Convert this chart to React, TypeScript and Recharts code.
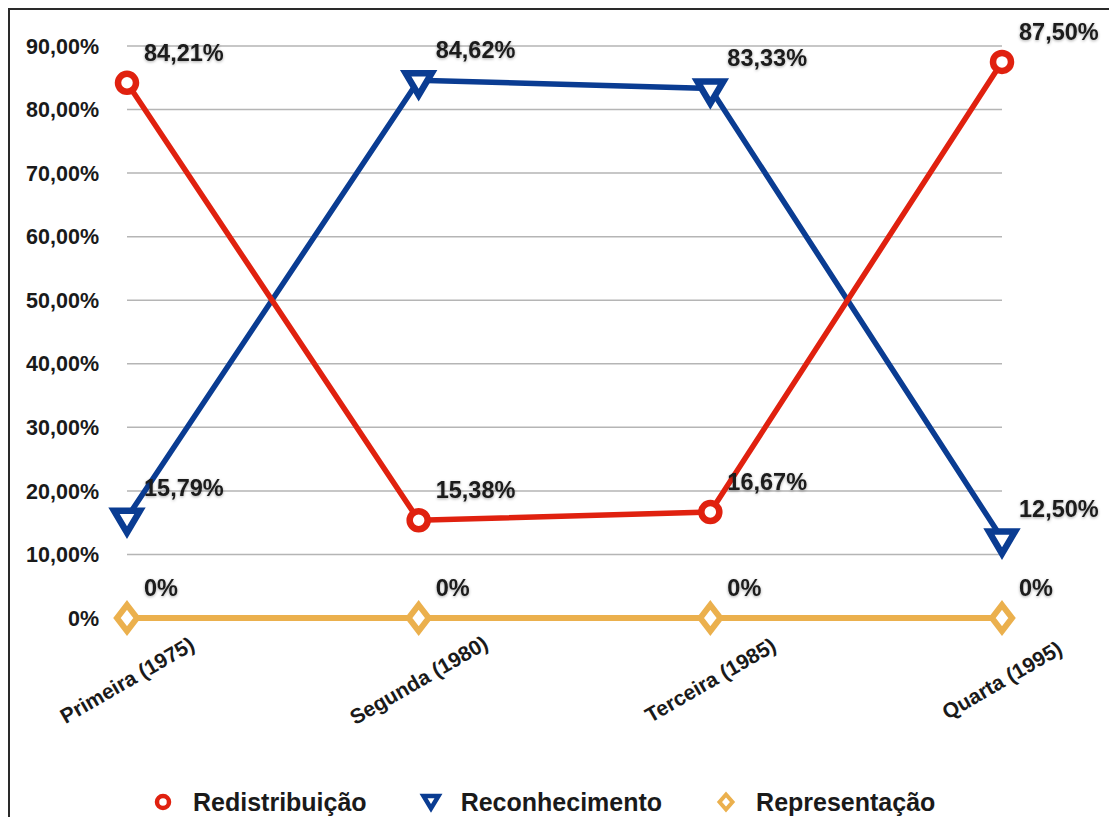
import { LineChart, Line, XAxis, YAxis, CartesianGrid, Legend, LabelList } from 'recharts';

const categories = ['Primeira (1975)', 'Segunda (1980)', 'Terceira (1985)', 'Quarta (1995)'];
const redistribuicao = [84.21, 15.38, 16.67, 87.5];
const reconhecimento = [15.79, 84.62, 83.33, 12.5];
const representacao = [0, 0, 0, 0];
const yTicks = [0, 10, 20, 30, 40, 50, 60, 70, 80, 90];

const RED = '#e0210f';
const BLUE = '#0a3c92';
const YELLOW = '#ebb04d';
const FONT = '"Liberation Sans", Arial, Helvetica, sans-serif';

const data = categories.map((name, i) => ({
  name,
  redistribuicao: redistribuicao[i],
  reconhecimento: reconhecimento[i],
  representacao: representacao[i],
}));

const fmtPct = (v: number) => (v === 0 ? '0%' : v.toFixed(2).replace('.', ',') + '%');

function CircleDot(props: any) {
  const { cx, cy } = props;
  if (cx == null || cy == null) return null;
  return <circle cx={cx} cy={cy} r={9} fill="#fff" stroke={RED} strokeWidth={6.5} />;
}

function TriangleDot(props: any) {
  const { cx, cy } = props;
  if (cx == null || cy == null) return null;
  return (
    <path
      d={`M${cx - 13},${cy - 7} L${cx + 13},${cy - 7} L${cx},${cy + 15} Z`}
      fill="#fff"
      stroke={BLUE}
      strokeWidth={6.5}
      strokeLinejoin="miter"
    />
  );
}

function DiamondDot(props: any) {
  const { cx, cy } = props;
  if (cx == null || cy == null) return null;
  return (
    <path
      d={`M${cx},${cy - 13} L${cx + 10},${cy} L${cx},${cy + 13} L${cx - 10},${cy} Z`}
      fill="#fff"
      stroke={YELLOW}
      strokeWidth={6}
      strokeLinejoin="miter"
    />
  );
}

function PointLabel(props: any) {
  const { x, y, value } = props;
  if (x == null || y == null) return null;
  return (
    <text
      x={x + 17}
      y={y - 30}
      dominantBaseline="central"
      fontSize={23.5}
      fontWeight="bold"
      fontFamily={FONT}
      fill="#1a1a1a"
      filter="url(#lblShadow)"
    >
      {fmtPct(value)}
    </text>
  );
}

function CategoryTick(props: any) {
  const { x, y, payload } = props;
  const cy = y + 54;
  return (
    <text
      x={x}
      y={cy}
      textAnchor="middle"
      dominantBaseline="central"
      transform={`rotate(-30 ${x} ${cy})`}
      fontSize={21}
      fontWeight="bold"
      fontFamily={FONT}
      fill="#1a1a1a"
    >
      {payload.value}
    </text>
  );
}

const legendItems = [
  { label: 'Redistribuição', color: RED, icon: 'circle' },
  { label: 'Reconhecimento', color: BLUE, icon: 'triangle' },
  { label: 'Representação', color: YELLOW, icon: 'diamond' },
];

function LegendIcon({ icon, color }: { icon: string; color: string }) {
  return (
    <svg width={24} height={24} style={{ display: 'block' }}>
      {icon === 'circle' && <circle cx={12} cy={12} r={6} fill="#fff" stroke={color} strokeWidth={4.5} />}
      {icon === 'triangle' && (
        <path d="M4.5,6 L19.5,6 L12,18.5 Z" fill="#fff" stroke={color} strokeWidth={4.5} />
      )}
      {icon === 'diamond' && (
        <path d="M12,4.5 L18.5,12 L12,19.5 L5.5,12 Z" fill="#fff" stroke={color} strokeWidth={4} />
      )}
    </svg>
  );
}

function ChartLegend() {
  return (
    <div
      style={{
        display: 'flex',
        alignItems: 'center',
        height: 30,
        paddingLeft: 141,
        fontFamily: FONT,
        fontSize: 25,
        fontWeight: 'bold',
        color: '#1a1a1a',
      }}
    >
      {legendItems.map((item) => (
        <div key={item.label} style={{ display: 'flex', alignItems: 'center', marginRight: 52 }}>
          <LegendIcon icon={item.icon} color={item.color} />
          <span style={{ marginLeft: 18 }}>{item.label}</span>
        </div>
      ))}
    </div>
  );
}

export default function App() {
  return (
    <div
      style={{
        width: 1107,
        height: 807,
        borderTop: '2px solid #2a2a2a',
        borderLeft: '2px solid #2a2a2a',
        background: '#fff',
        fontFamily: FONT,
        overflow: 'hidden',
      }}
    >
      <LineChart width={1107} height={807} data={data} margin={{ top: 36, right: 115, bottom: 0, left: 17 }}>
        <defs>
          <filter id="lblShadow" x="-20%" y="-60%" width="140%" height="220%">
            <feDropShadow dx="0" dy="1" stdDeviation="1.6" floodColor="#000" floodOpacity="0.35" />
          </filter>
        </defs>
        <CartesianGrid vertical={false} stroke="#b5b5b5" strokeWidth={1.5} />
        <XAxis
          dataKey="name"
          scale="point"
          padding={{ left: 0, right: 0 }}
          axisLine={false}
          tickLine={false}
          interval={0}
          height={169}
          tick={<CategoryTick />}
        />
        <YAxis
          domain={[0, 90]}
          ticks={yTicks}
          width={100}
          axisLine={false}
          tickLine={false}
          tickMargin={22}
          tickFormatter={fmtPct}
          tick={{ fontSize: 21.5, fontWeight: 'bold', fill: '#1a1a1a', fontFamily: FONT }}
        />
        <Legend verticalAlign="bottom" wrapperStyle={{ left: 0, width: 1107 }} content={<ChartLegend />} />
        <Line
          dataKey="representacao"
          name="Representação"
          stroke={YELLOW}
          strokeWidth={6}
          isAnimationActive={false}
          dot={(p: any) => <DiamondDot key={`d-${p.index}`} {...p} />}
          activeDot={false}
        >
          <LabelList dataKey="representacao" content={<PointLabel />} />
        </Line>
        <Line
          dataKey="reconhecimento"
          name="Reconhecimento"
          stroke={BLUE}
          strokeWidth={5.5}
          isAnimationActive={false}
          dot={(p: any) => <TriangleDot key={`t-${p.index}`} {...p} />}
          activeDot={false}
        >
          <LabelList dataKey="reconhecimento" content={<PointLabel />} />
        </Line>
        <Line
          dataKey="redistribuicao"
          name="Redistribuição"
          stroke={RED}
          strokeWidth={5.5}
          isAnimationActive={false}
          dot={(p: any) => <CircleDot key={`c-${p.index}`} {...p} />}
          activeDot={false}
        >
          <LabelList dataKey="redistribuicao" content={<PointLabel />} />
        </Line>
      </LineChart>
    </div>
  );
}
